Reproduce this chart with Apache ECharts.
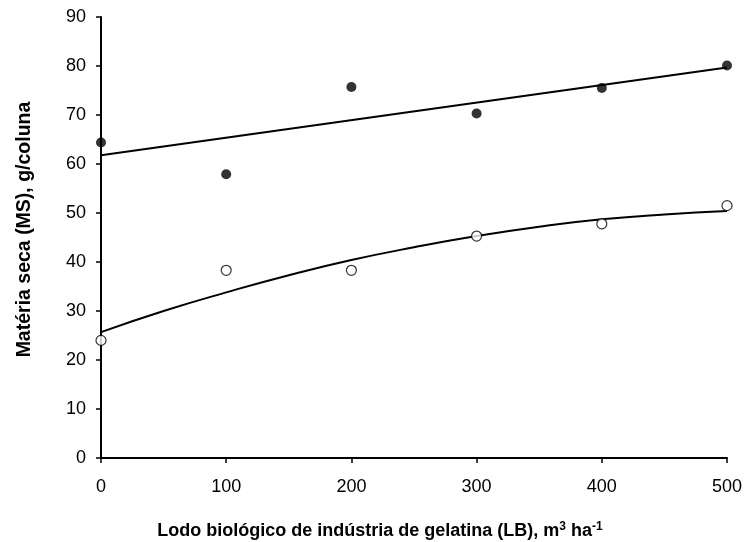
<!DOCTYPE html>
<html>
<head>
<meta charset="utf-8">
<script src="https://cdn.jsdelivr.net/npm/echarts@6/dist/echarts.min.js"></script>
<style>
  html, body { margin: 0; padding: 0; background: #fff; }
  #chart { width: 748px; height: 542px; }
</style>
</head>
<body>
<div id="chart"></div>
<script>
// Doses of gelatin-industry biological sludge (m3/ha)
const doses = [0, 100, 200, 300, 400, 500];
// Observed dry matter, g/column
const msFilled = [64.4, 57.9, 75.7, 70.3, 75.5, 80.1];
const msOpen = [24.0, 38.3, 38.3, 45.3, 47.8, 51.5];
// Fitted trend lines
const fitLinearX = [0, 500];
const fitLinearY = [61.8, 79.7];
const fitCurveX = [0, 50, 100, 150, 200, 250, 300, 350, 400, 450, 500];
const fitCurveY = [25.7, 30.0, 33.8, 37.3, 40.4, 43.0, 45.3, 47.2, 48.7, 49.7, 50.4];
// Axis ticks
const xTicks = [0, 100, 200, 300, 400, 500];
const yTicks = [0, 10, 20, 30, 40, 50, 60, 70, 80, 90];

const zip = (xs, ys) => xs.map((x, i) => [x, ys[i]]);

const chart = echarts.init(document.getElementById('chart'), null, { renderer: 'canvas' });
const font = 'Liberation Sans, Arial, sans-serif';
const axisCommon = {
  axisLine: { show: true, lineStyle: { color: '#000', width: 2 } },
  axisTick: { show: true, inside: false, length: 5, lineStyle: { color: '#000', width: 1.5 } },
  splitLine: { show: false },
  axisLabel: { color: '#000', fontSize: 18, fontFamily: font }
};

chart.setOption({
  animation: false,
  backgroundColor: '#fff',
  grid: { left: 101, right: 21, top: 17, bottom: 84, containLabel: false, outerBoundsMode: 'none' },
  xAxis: Object.assign({}, axisCommon, {
    type: 'value', min: xTicks[0], max: xTicks[xTicks.length - 1], interval: 100,
    axisLabel: Object.assign({}, axisCommon.axisLabel, { margin: 20 }),
    name: '{t|Lodo biológico de indústria de gelatina (LB), m}{s|3}{t| ha}{s|-1}',
    nameLocation: 'middle', nameGap: 63,
    nameTextStyle: {
      padding: [0, 68, 0, 0],
      rich: {
        t: { color: '#000', fontSize: 18, fontWeight: 'bold', fontFamily: font },
        s: { color: '#000', fontSize: 12, fontWeight: 'bold', fontFamily: font, verticalAlign: 'top', padding: [0, 0, 9, 0] }
      }
    }
  }),
  yAxis: Object.assign({}, axisCommon, {
    type: 'value', min: yTicks[0], max: yTicks[yTicks.length - 1], interval: 10,
    axisLabel: Object.assign({}, axisCommon.axisLabel, { margin: 15 }),
    name: 'Matéria seca (MS), g/coluna',
    nameLocation: 'middle', nameGap: 66,
    nameTextStyle: { color: '#000', fontSize: 19.5, fontWeight: 'bold', fontFamily: font, padding: [0, 0, 0, 16] }
  }),
  series: [
    {
      type: 'line', data: zip(fitLinearX, fitLinearY), showSymbol: false, symbol: 'none',
      lineStyle: { color: '#000', width: 2 }, z: 2
    },
    {
      type: 'line', data: zip(fitCurveX, fitCurveY), showSymbol: false, symbol: 'none', smooth: true,
      lineStyle: { color: '#000', width: 2 }, z: 2
    },
    {
      type: 'scatter', data: zip(doses, msFilled), symbol: 'circle', symbolSize: 10,
      itemStyle: { color: '#000' }, z: 3
    },
    {
      type: 'scatter', data: zip(doses, msOpen), symbol: 'circle', symbolSize: 10,
      itemStyle: { color: '#fff', borderColor: '#000', borderWidth: 1.2 }, z: 3
    }
  ]
});
</script>
</body>
</html>
